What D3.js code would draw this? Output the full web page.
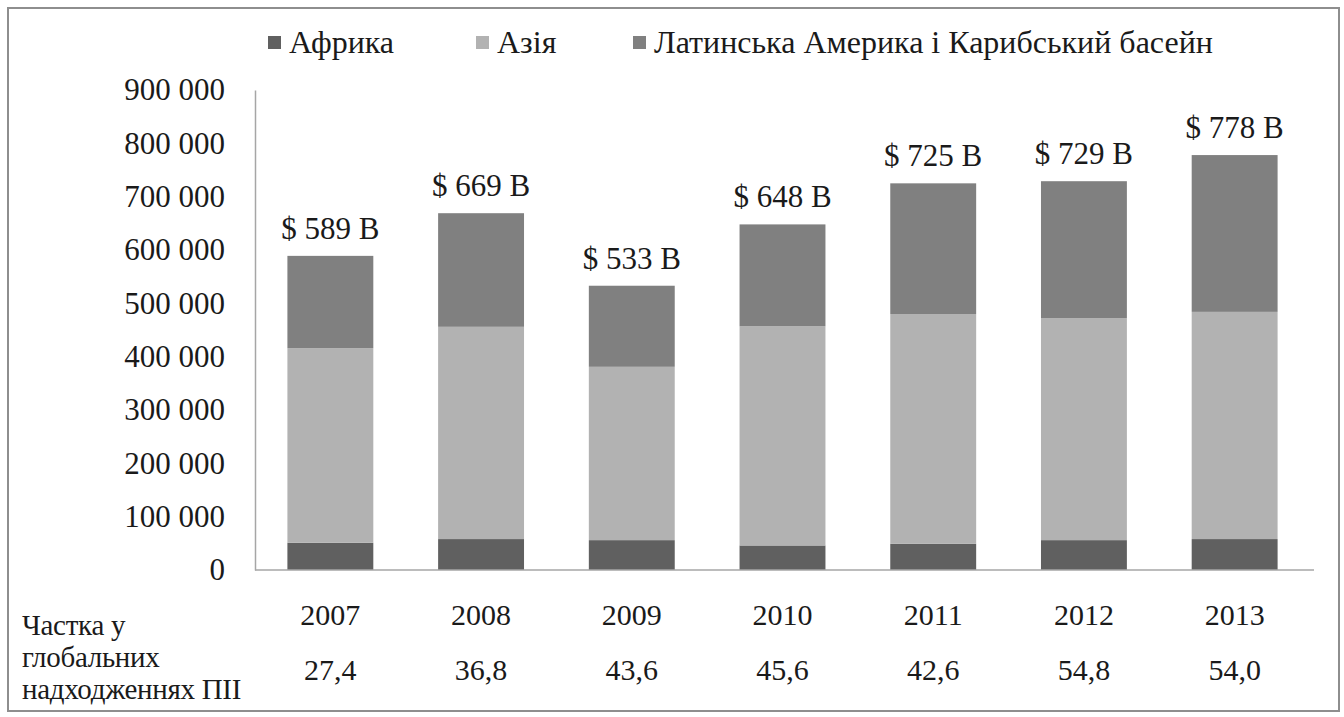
<!DOCTYPE html>
<html>
<head>
<meta charset="utf-8">
<title>ПІІ</title>
<style>
  body { margin: 0; background: #fff; }
</style>
</head>
<body>
<script src="https://cdn.jsdelivr.net/npm/d3@7"></script>
<script>
// data (thousand USD)
var years = ["2007", "2008", "2009", "2010", "2011", "2012", "2013"];
var africa = [51000, 58000, 56000, 46000, 49000, 56000, 58000];
var asia = [365000, 398000, 325000, 411000, 431000, 416000, 426000];
var latam = [173000, 213000, 152000, 191000, 245000, 257000, 294000];
var totalLabels = ["$ 589 B", "$ 669 B", "$ 533 B", "$ 648 B", "$ 725 B", "$ 729 B", "$ 778 B"];
var shares = ["27,4", "36,8", "43,6", "45,6", "42,6", "54,8", "54,0"];
var seriesNames = ["Африка", "Азія", "Латинська Америка і Карибський басейн"];
var seriesColors = ["#606060", "#b2b2b2", "#808080"];
var yTicks = [0, 100000, 200000, 300000, 400000, 500000, 600000, 700000, 800000, 900000];
var shareTitle = ["Частка у", "глобальних", "надходженнях ПІІ"];

var FONT = "Liberation Serif";
var width = 1344, height = 717;

var svg = d3.select("body").append("svg")
      .attr("width", width)
      .attr("height", height)
      .attr("font-family", FONT);

// outer frame
svg.append("rect")
  .attr("x", 8).attr("y", 8)
  .attr("width", 1331).attr("height", 703)
  .style("fill", "none")
  .style("stroke", "#8e8e8e")
  .style("stroke-width", 2);

var x = d3.scaleBand()
      .domain(years)
      .range([255, 1310])
      .paddingInner(0.43)
      .paddingOuter(0.215);

var y = d3.scaleLinear()
      .domain([0, 900000])
      .range([570, 90]);

var rows = years.map(function (yr, i) {
  return { year: yr, "Африка": africa[i], "Азія": asia[i], "Латинська Америка і Карибський басейн": latam[i] };
});

var stacked = d3.stack().keys(seriesNames)(rows);

svg.selectAll("g.series")
    .data(stacked)
  .enter().append("g")
    .attr("class", "series")
    .style("fill", function (d, i) { return seriesColors[i]; })
  .selectAll("rect")
    .data(function (d) { return d; })
  .enter().append("rect")
    .attr("x", function (d) { return x(d.data.year); })
    .attr("width", x.bandwidth())
    .attr("y", function (d) { return y(d[1]); })
    .attr("height", function (d) { return y(d[0]) - y(d[1]); });

// y axis
var yAxis = d3.axisLeft(y)
      .tickValues(yTicks)
      .tickSize(0)
      .tickPadding(30)
      .tickFormat(function (d) { return d3.format(",")(d).replace(/,/g, " "); });

var gy = svg.append("g")
    .attr("transform", "translate(255,0)")
    .call(yAxis)
    .attr("font-family", FONT)
    .attr("font-size", 31);
gy.select(".domain").style("stroke", "#a6a6a6").style("stroke-width", 1.5);
gy.selectAll("text").style("fill", "#1a1a1a");

// x axis line
svg.append("line")
  .attr("x1", 255).attr("x2", 1314)
  .attr("y1", y(0)).attr("y2", y(0))
  .style("stroke", "#a6a6a6")
  .style("stroke-width", 1.5);

// total labels
svg.selectAll("text.total")
    .data(stacked[2])
  .enter().append("text")
    .attr("class", "total")
    .attr("x", function (d) { return x(d.data.year) + x.bandwidth() / 2; })
    .attr("y", function (d) { return y(d[1]) - 17; })
    .attr("text-anchor", "middle")
    .attr("font-family", FONT)
    .attr("font-size", 31)
    .style("fill", "#1a1a1a")
    .text(function (d, i) { return totalLabels[i]; });

// year labels and shares
svg.selectAll("text.year")
    .data(years)
  .enter().append("text")
    .attr("class", "year")
    .attr("x", function (d) { return x(d) + x.bandwidth() / 2; })
    .attr("y", 625)
    .attr("text-anchor", "middle")
    .attr("font-family", FONT)
    .attr("font-size", 30)
    .style("fill", "#1a1a1a")
    .text(function (d) { return d; });

svg.selectAll("text.share")
    .data(shares)
  .enter().append("text")
    .attr("class", "share")
    .attr("x", function (d, i) { return x(years[i]) + x.bandwidth() / 2; })
    .attr("y", 680)
    .attr("text-anchor", "middle")
    .attr("font-family", FONT)
    .attr("font-size", 30)
    .style("fill", "#1a1a1a")
    .text(function (d) { return d; });

svg.selectAll("text.sharetitle")
    .data(shareTitle)
  .enter().append("text")
    .attr("class", "sharetitle")
    .attr("x", 22)
    .attr("y", function (d, i) { return 635 + i * 32; })
    .attr("font-family", FONT)
    .attr("font-size", 29)
    .style("letter-spacing", "-0.3px")
    .style("fill", "#1a1a1a")
    .text(function (d) { return d; });

// legend
var legendX = [268, 476, 633];
var legend = svg.selectAll("g.legend")
    .data(seriesNames)
  .enter().append("g")
    .attr("class", "legend")
    .attr("transform", function (d, i) { return "translate(" + legendX[i] + ",0)"; });

legend.append("rect")
  .attr("x", 0).attr("y", 36)
  .attr("width", 13).attr("height", 13)
  .style("fill", function (d, i) { return seriesColors[i]; });

legend.append("text")
  .attr("x", 21)
  .attr("y", 53)
  .attr("font-family", FONT)
  .attr("font-size", 32)
  .style("fill", "#1a1a1a")
  .text(function (d) { return d; });
</script>
</body>
</html>
